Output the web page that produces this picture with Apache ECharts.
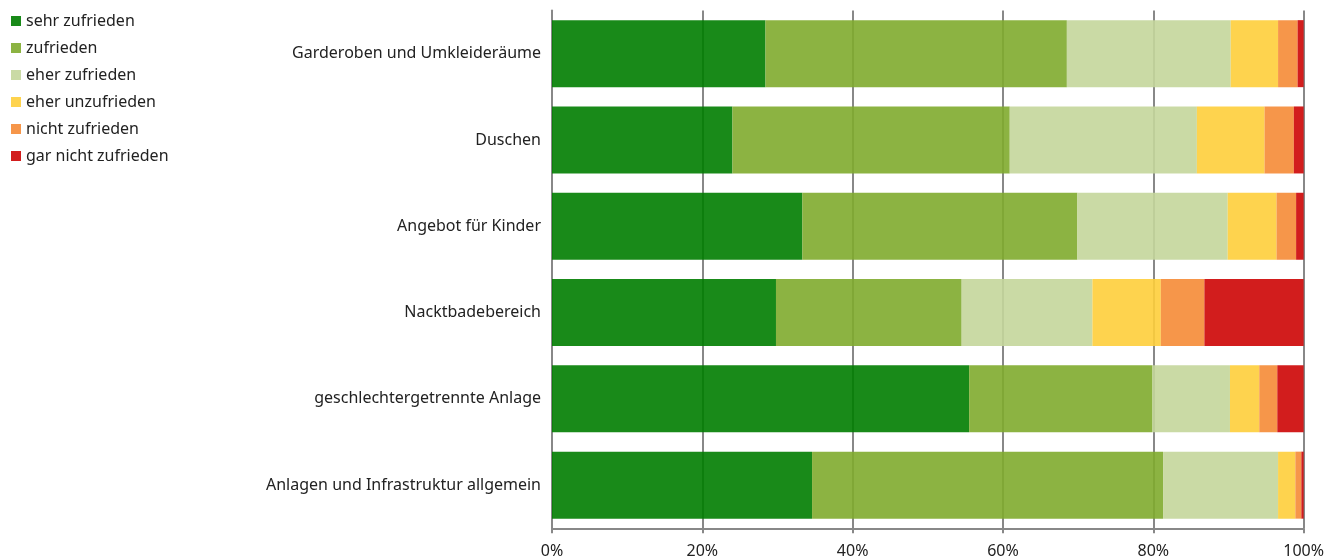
<!DOCTYPE html>
<html>
<head>
<meta charset="utf-8">
<script src="https://cdn.jsdelivr.net/npm/echarts@6/dist/echarts.min.js"></script>
<style>
  html, body { margin: 0; padding: 0; background: #fff; }
  #chart { width: 1327px; height: 560px; }
</style>
</head>
<body>
<div id="chart"></div>
<script>
// Satisfaction shares per facility area (percent of respondents)
const categories = [
  'Garderoben und Umkleideräume',
  'Duschen',
  'Angebot für Kinder',
  'Nacktbadebereich',
  'geschlechtergetrennte Anlage',
  'Anlagen und Infrastruktur allgemein'
];
const seriesNames = [
  'sehr zufrieden',
  'zufrieden',
  'eher zufrieden',
  'eher unzufrieden',
  'nicht zufrieden',
  'gar nicht zufrieden'
];
const sehrZufrieden     = [28.4, 24.0, 33.3, 29.8, 55.5, 34.6];
const zufrieden         = [40.1, 36.9, 36.6, 24.7, 24.4, 46.7];
const eherZufrieden     = [21.8, 24.9, 20.0, 17.4, 10.3, 15.3];
const eherUnzufrieden   = [ 6.3,  9.0,  6.5,  9.1,  3.9,  2.3];
const nichtZufrieden    = [ 2.6,  3.9,  2.6,  5.8,  2.4,  0.8];
const garNichtZufrieden = [ 0.8,  1.3,  1.0, 13.2,  3.5,  0.3];
const xTicks = [0, 20, 40, 60, 80, 100];

const values = [sehrZufrieden, zufrieden, eherZufrieden, eherUnzufrieden, nichtZufrieden, garNichtZufrieden];
// Bars are slightly translucent so the grid lines show through them
const colors = ['#007d00', '#80ab2e', '#c4d69b', '#fece3b', '#f58b36', '#cd0404'];
const barOpacity = 0.9;

const font = '"Noto Sans", "Open Sans", sans-serif';

const chart = echarts.init(document.getElementById('chart'));
chart.setOption({
  animation: false,
  color: colors,
  textStyle: { fontFamily: font },
  legend: {
    orient: 'vertical',
    left: 6,
    top: 8,
    icon: 'rect',
    itemWidth: 10,
    itemHeight: 10,
    itemGap: 11,
    data: seriesNames,
    itemStyle: { opacity: barOpacity },
    textStyle: { fontSize: 16, color: '#222', lineHeight: 16 }
  },
  grid: { left: 552, right: 22, top: 10.5, bottom: 31.7, containLabel: false },
  xAxis: {
    type: 'value',
    min: xTicks[0],
    max: xTicks[xTicks.length - 1],
    interval: 20,
    axisLine: { show: true, lineStyle: { color: '#888', width: 2 } },
    axisTick: { show: true, length: 5, lineStyle: { color: '#888', width: 2 } },
    axisLabel: { formatter: '{value}%', fontSize: 16, color: '#222', margin: 15 },
    splitLine: { show: true, lineStyle: { color: '#888', width: 2 } }
  },
  yAxis: {
    type: 'category',
    data: categories,
    inverse: true,
    axisLine: { show: true, lineStyle: { color: '#888', width: 2 } },
    axisTick: { show: false },
    axisLabel: { fontSize: 16, color: '#222', margin: 11 }
  },
  series: seriesNames.map((name, i) => ({
    name: name,
    type: 'bar',
    stack: 'total',
    barWidth: 67,
    data: values[i],
    itemStyle: { color: colors[i], opacity: barOpacity }
  }))
});
</script>
</body>
</html>
